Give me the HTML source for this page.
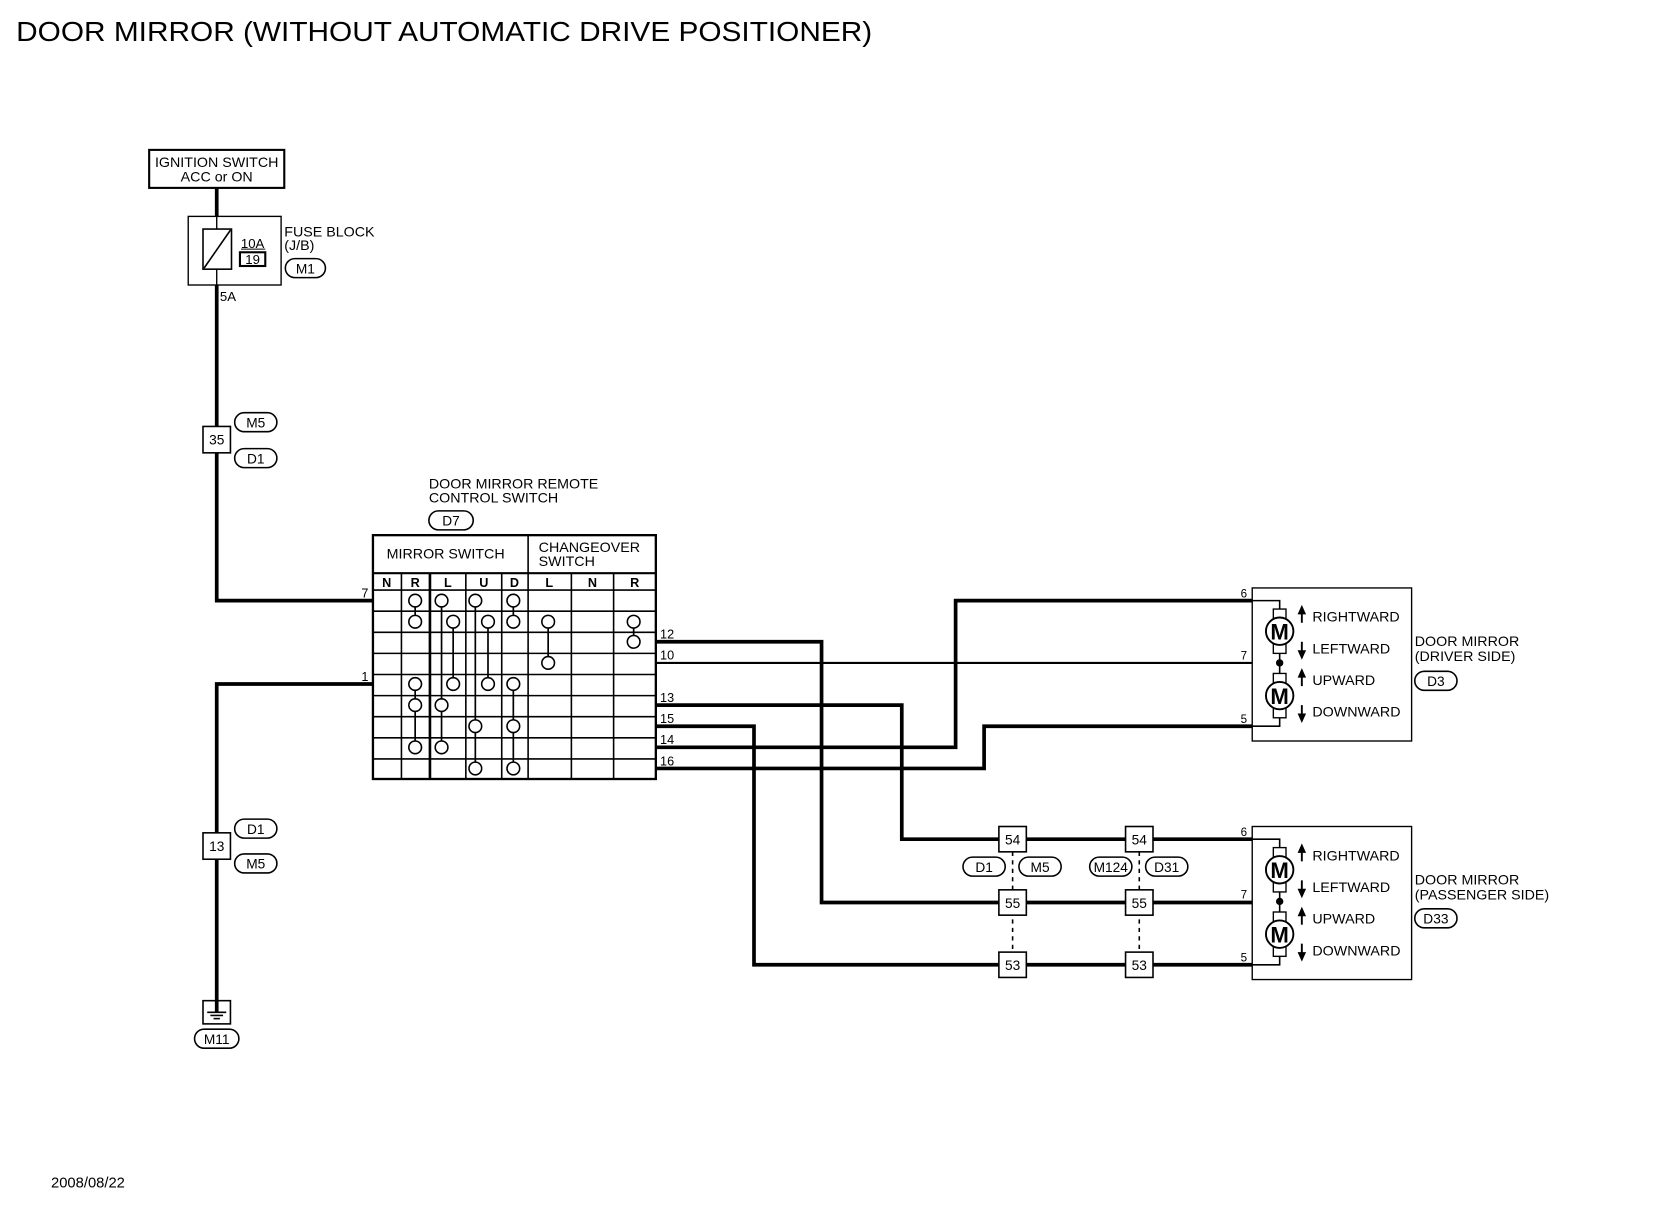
<!DOCTYPE html>
<html><head><meta charset="utf-8"><style>
html,body{margin:0;padding:0;background:#fff}
svg{display:block}
text{font-family:"Liberation Sans",Arial,sans-serif;fill:#000}
</style></head><body>
<svg width="1660" height="1216" viewBox="0 0 1572 1152" xmlns="http://www.w3.org/2000/svg">
<defs>
<g id="motor">
  <rect x="-6" y="-21" width="12" height="9" fill="#fff" stroke="#000" stroke-width="1.3"/>
  <rect x="-6" y="12" width="12" height="9" fill="#fff" stroke="#000" stroke-width="1.3"/>
  <circle cx="0" cy="0" r="13" fill="#fff" stroke="#000" stroke-width="1.8"/>
  <text x="0" y="8" font-size="21" font-weight="bold" text-anchor="middle">M</text>
</g>
<g id="mirror">
  <rect x="1186" y="557" width="151" height="145" fill="#fff" stroke="#000" stroke-width="1.3"/>
  <polyline points="1186,569 1212,569 1212,688 1186,688" fill="none" stroke="#000" stroke-width="1.5"/>
  <use href="#motor" x="1212" y="598"/>
  <use href="#motor" x="1212" y="659"/>
  <circle cx="1212" cy="628" r="3.5"/>
  <path d="M1233,573 l-4,9 h8z M1233,625 l-4,-9 h8z M1233,633 l-4,9 h8z M1233,685 l-4,-9 h8z"/>
  <line x1="1233" y1="580" x2="1233" y2="590" stroke="#000" stroke-width="1.8"/>
  <line x1="1233" y1="608" x2="1233" y2="618" stroke="#000" stroke-width="1.8"/>
  <line x1="1233" y1="640" x2="1233" y2="650" stroke="#000" stroke-width="1.8"/>
  <line x1="1233" y1="668" x2="1233" y2="678" stroke="#000" stroke-width="1.8"/>
  <g font-size="13.5">
  <text x="1243" y="589">RIGHTWARD</text>
  <text x="1243" y="619">LEFTWARD</text>
  <text x="1243" y="649">UPWARD</text>
  <text x="1243" y="679">DOWNWARD</text>
  </g>
  <g font-size="11">
  <text x="1175" y="566">6</text>
  <text x="1175" y="625">7</text>
  <text x="1175" y="685">5</text>
  </g>
</g>
</defs>

<text x="15" y="39" font-size="26" textLength="811" lengthAdjust="spacingAndGlyphs">DOOR MIRROR (WITHOUT AUTOMATIC DRIVE POSITIONER)</text>
<text x="48" y="1125" font-size="14">2008/08/22</text>

<g stroke="#000" fill="none">
<g stroke-width="3.5">
<polyline points="205,178 205,569 353,569"/>
<polyline points="353,648 205,648 205,960"/>
<polyline points="621,608 778,608 778,855 1186,855"/>
<polyline points="621,668 854,668 854,795 1186,795"/>
<polyline points="621,688 714,688 714,914 1186,914"/>
<polyline points="621,708 905,708 905,569 1186,569"/>
<polyline points="621,728 932,728 932,688 1186,688"/>
</g>
<line x1="621" y1="628" x2="1186" y2="628" stroke-width="2"/>
<line x1="959" y1="807" x2="959" y2="902" stroke-width="1.5" stroke-dasharray="4,4"/>
<line x1="1079" y1="807" x2="1079" y2="902" stroke-width="1.5" stroke-dasharray="4,4"/>
</g>

<rect x="141" y="142" width="128" height="36" fill="#fff" stroke="#000" stroke-width="2"/>
<text x="205" y="158" font-size="13.5" text-anchor="middle">IGNITION SWITCH</text>
<text x="205" y="172" font-size="13.5" text-anchor="middle">ACC or ON</text>
<rect x="178" y="205" width="88" height="65" fill="#fff" stroke="#000" stroke-width="1.3"/>
<line x1="205" y1="205" x2="205" y2="217" stroke="#000" stroke-width="1.3"/>
<line x1="205" y1="255" x2="205" y2="270" stroke="#000" stroke-width="1.3"/>
<rect x="192" y="217" width="27" height="38" fill="#fff" stroke="#000" stroke-width="1.5"/>
<line x1="193" y1="254" x2="218" y2="218" stroke="#000" stroke-width="1.5"/>
<text x="239" y="235" font-size="12.5" text-anchor="middle">10A</text>
<line x1="228" y1="236" x2="251" y2="236" stroke="#000" stroke-width="1"/>
<rect x="227" y="239" width="24" height="13" fill="#fff" stroke="#000" stroke-width="2"/>
<text x="239" y="250" font-size="12.5" text-anchor="middle">19</text>
<text x="269" y="224" font-size="13.5">FUSE BLOCK</text>
<text x="269" y="237" font-size="13.5">(J/B)</text>
<text x="208" y="285" font-size="12.5">5A</text>

<g fill="#fff" stroke="#000" stroke-width="1.5">
<rect x="270" y="245" width="38" height="18" rx="9"/>
<rect x="222" y="391" width="40" height="18" rx="9"/>
<rect x="222" y="425" width="40" height="18" rx="9"/>
<rect x="222" y="776" width="40" height="18" rx="9"/>
<rect x="222" y="809" width="40" height="18" rx="9"/>
<rect x="184" y="975" width="42" height="18" rx="9"/>
<rect x="406" y="484" width="42" height="18" rx="9"/>
<rect x="912" y="812" width="40" height="18" rx="9"/>
<rect x="965" y="812" width="40" height="18" rx="9"/>
<rect x="1032" y="812" width="40" height="18" rx="9"/>
<rect x="1085" y="812" width="40" height="18" rx="9"/>
<rect x="1340" y="636" width="40" height="18" rx="9"/>
<rect x="1340" y="861" width="40" height="18" rx="9"/>
</g>
<g font-size="13" text-anchor="middle">
<text x="289" y="259">M1</text>
<text x="242" y="405">M5</text>
<text x="242" y="439">D1</text>
<text x="242" y="790">D1</text>
<text x="242" y="823">M5</text>
<text x="205" y="989">M11</text>
<text x="427" y="498">D7</text>
<text x="932" y="826">D1</text>
<text x="985" y="826">M5</text>
<text x="1052" y="826">M124</text>
<text x="1105" y="826">D31</text>
<text x="1360" y="650">D3</text>
<text x="1360" y="875">D33</text>
</g>

<g fill="#fff" stroke="#000" stroke-width="1.5">
<rect x="192" y="404" width="26" height="25"/>
<rect x="192" y="789" width="26" height="25"/>
<rect x="946" y="783" width="26" height="24"/>
<rect x="946" y="843" width="26" height="24"/>
<rect x="946" y="902" width="26" height="24"/>
<rect x="1066" y="783" width="26" height="24"/>
<rect x="1066" y="843" width="26" height="24"/>
<rect x="1066" y="902" width="26" height="24"/>
<rect x="192" y="948" width="26" height="22"/>
</g>
<g font-size="13" text-anchor="middle">
<text x="205" y="421">35</text>
<text x="205" y="806">13</text>
<text x="959" y="800">54</text>
<text x="959" y="860">55</text>
<text x="959" y="919">53</text>
<text x="1079" y="800">54</text>
<text x="1079" y="860">55</text>
<text x="1079" y="919">53</text>
</g>
<g stroke="#000" stroke-width="1.5">
<line x1="205" y1="948" x2="205" y2="959" stroke-width="3.5"/>
<line x1="196" y1="959" x2="214" y2="959"/>
<line x1="199" y1="962" x2="211" y2="962"/>
<line x1="202" y1="965" x2="208" y2="965"/>
</g>

<text x="406" y="463" font-size="13.5">DOOR MIRROR REMOTE</text>
<text x="406" y="476" font-size="13.5">CONTROL SWITCH</text>
<g stroke="#000" fill="none">
<rect x="353" y="507" width="268" height="231" stroke-width="2.2"/>
<line x1="353" y1="543" x2="621" y2="543" stroke-width="2"/>
<line x1="500" y1="507" x2="500" y2="738" stroke-width="1.5"/>
<g stroke-width="1.5">
<line x1="353" y1="559" x2="621" y2="559"/>
<line x1="353" y1="579" x2="621" y2="579"/>
<line x1="353" y1="599" x2="621" y2="599"/>
<line x1="353" y1="619" x2="621" y2="619"/>
<line x1="353" y1="639" x2="621" y2="639"/>
<line x1="353" y1="659" x2="621" y2="659"/>
<line x1="353" y1="679" x2="621" y2="679"/>
<line x1="353" y1="699" x2="621" y2="699"/>
<line x1="353" y1="719" x2="621" y2="719"/>
<line x1="380" y1="543" x2="380" y2="738"/>
<line x1="441" y1="543" x2="441" y2="738"/>
<line x1="475" y1="543" x2="475" y2="738"/>
<line x1="541" y1="543" x2="541" y2="738"/>
<line x1="581" y1="543" x2="581" y2="738"/>
</g>
<line x1="407" y1="543" x2="407" y2="738" stroke-width="2.5"/>
<g stroke-width="1.6">
<line x1="393" y1="569" x2="393" y2="589"/>
<line x1="418" y1="569" x2="418" y2="708"/>
<line x1="429" y1="589" x2="429" y2="648"/>
<line x1="450" y1="569" x2="450" y2="728"/>
<line x1="462" y1="589" x2="462" y2="648"/>
<line x1="486" y1="569" x2="486" y2="589"/>
<line x1="486" y1="648" x2="486" y2="728"/>
<line x1="519" y1="589" x2="519" y2="628"/>
<line x1="600" y1="589" x2="600" y2="608"/>
<line x1="393" y1="648" x2="393" y2="708"/>
</g>
</g>
<g fill="#fff" stroke="#000" stroke-width="1.5">
<circle cx="393" cy="569" r="6"/><circle cx="418" cy="569" r="6"/><circle cx="450" cy="569" r="6"/><circle cx="486" cy="569" r="6"/>
<circle cx="393" cy="589" r="6"/><circle cx="429" cy="589" r="6"/><circle cx="462" cy="589" r="6"/><circle cx="486" cy="589" r="6"/><circle cx="519" cy="589" r="6"/><circle cx="600" cy="589" r="6"/>
<circle cx="600" cy="608" r="6"/>
<circle cx="519" cy="628" r="6"/>
<circle cx="393" cy="648" r="6"/><circle cx="429" cy="648" r="6"/><circle cx="462" cy="648" r="6"/><circle cx="486" cy="648" r="6"/>
<circle cx="393" cy="668" r="6"/><circle cx="418" cy="668" r="6"/>
<circle cx="450" cy="688" r="6"/><circle cx="486" cy="688" r="6"/>
<circle cx="393" cy="708" r="6"/><circle cx="418" cy="708" r="6"/>
<circle cx="450" cy="728" r="6"/><circle cx="486" cy="728" r="6"/>
</g>
<text x="366" y="529" font-size="13.5">MIRROR SWITCH</text>
<text x="510" y="523" font-size="13.5">CHANGEOVER</text>
<text x="510" y="536" font-size="13.5">SWITCH</text>
<g font-size="12" font-weight="bold" text-anchor="middle">
<text x="366" y="556">N</text><text x="393" y="556">R</text><text x="424" y="556">L</text><text x="458" y="556">U</text><text x="487" y="556">D</text>
<text x="520" y="556">L</text><text x="561" y="556">N</text><text x="601" y="556">R</text>
</g>
<g font-size="12">
<text x="342" y="566">7</text>
<text x="342" y="645">1</text>
<text x="625" y="605">12</text>
<text x="625" y="625">10</text>
<text x="625" y="665">13</text>
<text x="625" y="685">15</text>
<text x="625" y="705">14</text>
<text x="625" y="725">16</text>
</g>

<use href="#mirror"/>
<use href="#mirror" y="226"/>
<text x="1340" y="612" font-size="13.5">DOOR MIRROR</text>
<text x="1340" y="626" font-size="13.5">(DRIVER SIDE)</text>
<text x="1340" y="838" font-size="13.5">DOOR MIRROR</text>
<text x="1340" y="852" font-size="13.5">(PASSENGER SIDE)</text>
</svg>
</body></html>
